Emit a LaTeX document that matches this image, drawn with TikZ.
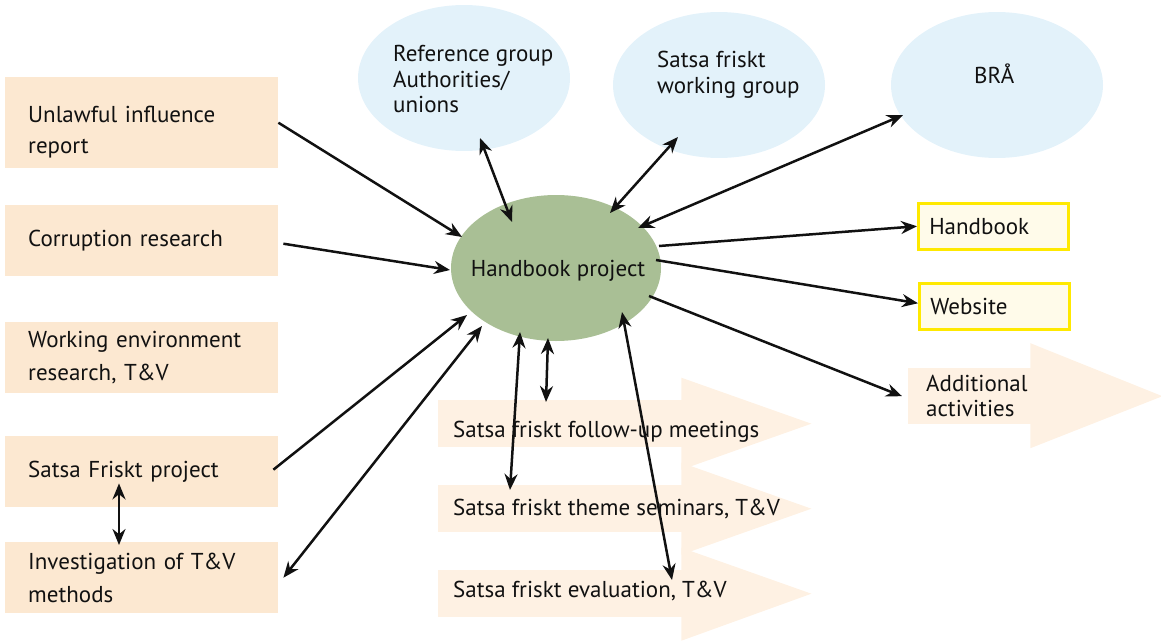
\documentclass[tikz,border=0pt]{standalone}
\usepackage{fontspec}
\setmainfont{PT Sans}
\usetikzlibrary{shapes.geometric,arrows.meta,calc}
\definecolor{peach}{HTML}{FCE8D1}
\definecolor{peachlt}{HTML}{FEF1E3}
\definecolor{skyb}{HTML}{E3F2FA}
\definecolor{sage}{HTML}{A9BF95}
\definecolor{ylw}{HTML}{FFE900}
\definecolor{ylwfill}{HTML}{FFFBEA}
\definecolor{ink}{HTML}{111111}
\begin{document}
\begin{tikzpicture}[x=1pt,y=-1pt,
  txt/.style={font=\fontsize{23}{31}\selectfont, text=ink, inner sep=0pt},
  lbox/.style={txt, fill=peach, minimum width=273pt, text width=227pt, inner xsep=23pt, inner ysep=0pt, align=left, anchor=north west},
  blueell/.style={ellipse, fill=skyb, minimum width=212pt, minimum height=146pt, inner sep=0pt},
  greenell/.style={ellipse, fill=sage, minimum width=210pt, minimum height=146pt, inner sep=0pt},
  ybox/.style={txt, draw=ylw, line width=2.5pt, fill=ylwfill, minimum width=150pt, minimum height=46pt, text width=128pt, inner xsep=11pt, inner ysep=0pt, align=left, anchor=north west},
  abody/.style={fill=peachlt, inner sep=0pt, anchor=north west},
  ahead/.style={fill=peachlt},
  conn/.style={line width=2.5pt, ink, -{Stealth[length=16pt,width=13pt]}},
  dconn/.style={line width=2.5pt, ink, {Stealth[length=16pt,width=13pt]}-{Stealth[length=16pt,width=13pt]}}
]
\useasboundingbox (0,0) rectangle (1161,640);

% left boxes
\node[lbox, minimum height=91pt] (unl) at (5,77) {\rule{0pt}{36pt}Unlawful influence\\report};
\node[lbox, minimum height=71pt] (cor) at (5,205) {Corruption research};
\node[lbox, minimum height=71pt, font=\fontsize{23}{33}\selectfont] (wer) at (5,322) {Working environment\\research, T\&V};
\node[lbox, minimum height=71pt] (sfp) at (5,436) {Satsa Friskt project};
\node[lbox, minimum height=71pt, font=\fontsize{23}{33}\selectfont] (inv) at (5,542) {Investigation of T\&V\\methods};

% top ellipses
\node[blueell] (ref) at (464,78) {};
\node[txt, align=left, anchor=west, font=\fontsize{23}{25.5}\selectfont] (reft) at ($(ref.center)+(-71,1)$) {Reference group\\Authorities/\\unions};
\node[blueell] (swg) at (719,85) {};
\node[txt, align=left, anchor=west, font=\fontsize{23}{26}\selectfont] (swgt) at ($(swg.center)+(-62,-10)$) {Satsa friskt\\working group};
\node[blueell] (bra) at (997,85) {};
\node[txt, anchor=base west] (brat) at ($(bra.center)+(-23,-2)$) {BRÅ};

% central ellipse
\node[greenell] (hp) at (556,268) {};
\node[txt] (hpt) at ($(hp.center)+(2,3)$) {Handbook project};

% output boxes
\node[ybox] (hbk) at (917,202) {Handbook};
\node[ybox] (web) at (918,282) {Website};

% bottom block arrows
\node[abody, minimum width=244pt, minimum height=47pt] (fuB) at (438,400) {};
\fill[ahead] ($(fuB.east)+(-1,-46)$) -- ($(fuB.east)+(129,0)$) -- ($(fuB.east)+(-1,46)$) -- cycle;
\node[abody, minimum width=244pt, minimum height=47pt] (tsB) at (438,485) {};
\fill[ahead] ($(tsB.east)+(-1,-46)$) -- ($(tsB.east)+(129,0)$) -- ($(tsB.east)+(-1,46)$) -- cycle;
\node[abody, minimum width=244pt, minimum height=47pt] (evB) at (438,570) {};
\fill[ahead] ($(evB.east)+(-1,-46)$) -- ($(evB.east)+(129,0)$) -- ($(evB.east)+(-1,47)$) -- cycle;
\node[abody, minimum width=123pt, minimum height=56pt] (addB) at (908,368) {};
\fill[ahead] ($(addB.east)+(-1,-53)$) -- ($(addB.east)+(131,0)$) -- ($(addB.east)+(-1,52)$) -- cycle;

\node[txt, anchor=base west] (fut) at (453,437) {Satsa friskt follow-up meetings};
\node[txt, anchor=base west] (tst) at (453,515) {Satsa friskt theme seminars, T\&V};
\node[txt, anchor=base west] (evt) at (453,597) {Satsa friskt evaluation, T\&V};
\node[txt, align=left, anchor=west, font=\fontsize{23}{25}\selectfont] (addt) at ($(addB.west)+(18,0)$) {Additional\\activities};

% connectors
\draw[conn] (unl.east) -- ($(hp.center)+(-94,-31)$);
\draw[conn] ($(cor.east)+(5,3)$) -- ($(hp.center)+(-106,2)$);
\draw[conn] ($(sfp.east)+(-5,-2)$) -- ($(hp.center)+(-89,47)$);
\draw[dconn] ($(hp.center)+(-74,58)$) -- ($(inv.east)+(5,0)$);
\draw[dconn] ($(sfp.south west)+(114,-24)$) -- ($(inv.north west)+(114,3)$);
\draw[dconn] ($(ref.center)+(16,60)$) -- ($(hp.center)+(-44,-46)$);
\draw[dconn] ($(swg.center)+(-41,52)$) -- ($(hp.center)+(54,-55)$);
\draw[dconn] ($(bra.center)+(-94,30)$) -- ($(hp.center)+(82,-40)$);
\draw[conn] ($(hp.center)+(103,-22)$) -- (hbk.west);
\draw[conn] ($(hp.center)+(100,-8)$) -- ($(web.west)+(0,-3)$);
\draw[conn] ($(hp.center)+(93,28)$) -- ($(addB.west)+(-6,0)$);
\draw[dconn] ($(hp.center)+(-8,70)$) -- ($(fuB.north west)+(108,2)$);
\draw[dconn] ($(hp.center)+(-36,64)$) -- ($(tsB.north west)+(72,5)$);
\draw[dconn] ($(hp.center)+(66,44)$) -- ($(evB.north west)+(234,10)$);
\end{tikzpicture}
\end{document}
